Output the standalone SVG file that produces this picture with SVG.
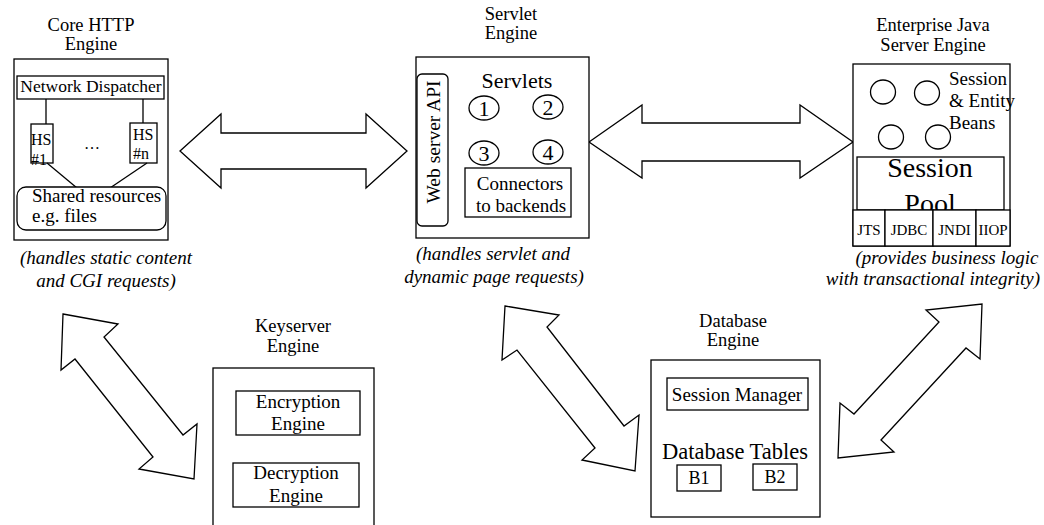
<svg xmlns="http://www.w3.org/2000/svg" width="1044" height="525" viewBox="0 0 1044 525">
<style>
text{font-family:"Liberation Serif","Times New Roman",serif;fill:#000}
.t{font-size:19px;text-anchor:middle}
.h{font-size:18.5px;text-anchor:middle}
.c{font-size:19px;font-style:italic;text-anchor:middle}
.b{fill:#fff;stroke:#000;stroke-width:1.3}
.l{fill:none;stroke:#000;stroke-width:1.3}
.ar{fill:#fff;stroke:#000;stroke-width:1.3;stroke-linejoin:miter}
</style>
<rect width="1044" height="525" fill="#fff"/>

<g id="connectors">
<polygon class="ar" points="180,151 221,114 221,133 366,133 366,114 407,151 366,188 366,169 221,169 221,188"/>
<polygon class="ar" points="589,142 642,105 642,123 800,123 800,105 853,142 800,178 800,161 642,161 642,178"/>
<polygon class="ar" points="63,314 118,324 104,337 183,435 197,424 194,479 139,469 153,457 75,359 61,370"/>
<polygon class="ar" points="505,306 559,315 547,327 624,426 639,415 635,471 582,460 595,448 517,350 502,360"/>
<polygon class="ar" points="982,304 980,359 966,348 881,440 894,452 838,458 840,403 854,414 939,322 926,310"/>
</g>

<g id="core-http">
<text class="h" x="91" y="31">Core HTTP</text>
<text class="h" x="91" y="50">Engine</text>
<rect class="b" x="14" y="59" width="154" height="181"/>
<rect class="b" x="17" y="76" width="147" height="23"/>
<text x="91" y="92" style="font-size:17.5px;text-anchor:middle">Network Dispatcher</text>
<line class="l" x1="46" y1="99" x2="46" y2="124"/>
<line class="l" x1="143" y1="99" x2="143" y2="123"/>
<rect class="b" x="31" y="124" width="22" height="39"/>
<rect class="b" x="130" y="123" width="27" height="40"/>
<text x="31" y="145" style="font-size:16px">HS</text>
<text x="31" y="165" style="font-size:16px">#1</text>
<text x="133" y="140" style="font-size:16px">HS</text>
<text x="133" y="159" style="font-size:16px">#n</text>
<text x="92" y="149" style="font-size:16px;text-anchor:middle">…</text>
<line class="l" x1="47" y1="163" x2="77" y2="188"/>
<line class="l" x1="147" y1="163" x2="110" y2="188"/>
<rect class="b" x="17" y="187" width="149" height="43" rx="9"/>
<text x="32" y="202" style="font-size:19px">Shared resources</text>
<text x="32" y="222" style="font-size:19px">e.g. files</text>
<text class="c" x="106" y="264">(handles static content</text>
<text class="c" x="106" y="287">and CGI requests)</text>
</g>

<g id="servlet">
<text class="h" x="511" y="20">Servlet</text>
<text class="h" x="511" y="39">Engine</text>
<rect class="b" x="416" y="57" width="173" height="181"/>
<rect class="b" x="417" y="74" width="31" height="152" rx="5"/>
<text transform="translate(440,142) rotate(-90)" style="font-size:19.5px;text-anchor:middle">Web server API</text>
<text x="517" y="88" style="font-size:22px;text-anchor:middle">Servlets</text>
<ellipse class="b" cx="484" cy="108" rx="15" ry="12"/>
<ellipse class="b" cx="548" cy="107" rx="15" ry="12"/>
<ellipse class="b" cx="484" cy="153" rx="15" ry="12"/>
<ellipse class="b" cx="548" cy="152" rx="15" ry="12"/>
<text x="484" y="116" style="font-size:22px;text-anchor:middle">1</text>
<text x="548" y="115" style="font-size:22px;text-anchor:middle">2</text>
<text x="484" y="161" style="font-size:22px;text-anchor:middle">3</text>
<text x="548" y="160" style="font-size:22px;text-anchor:middle">4</text>
<rect class="b" x="465" y="168" width="106" height="49"/>
<text class="t" x="520" y="190">Connectors</text>
<text class="t" x="521" y="212">to backends</text>
<text class="c" x="493" y="260">(handles servlet and</text>
<text class="c" x="494" y="283">dynamic page requests)</text>
</g>

<g id="ejb">
<text class="h" x="933" y="31">Enterprise Java</text>
<text class="h" x="933" y="51">Server Engine</text>
<rect class="b" x="853" y="64" width="157" height="182"/>
<ellipse class="b" cx="883" cy="92" rx="12.5" ry="12"/>
<ellipse class="b" cx="927" cy="93" rx="12.5" ry="12"/>
<ellipse class="b" cx="891" cy="137" rx="12.5" ry="12"/>
<ellipse class="b" cx="938" cy="137" rx="12.5" ry="12"/>
<text x="949" y="85" style="font-size:19px">Session</text>
<text x="949" y="107" style="font-size:19px">&amp; Entity</text>
<text x="949" y="129" style="font-size:19px">Beans</text>
<rect class="b" x="857" y="157" width="147" height="53"/>
<text x="930" y="177" style="font-size:28px;text-anchor:middle">Session</text>
<text x="930" y="213" style="font-size:28px;text-anchor:middle">Pool</text>
<rect class="b" x="853" y="210" width="32" height="36"/>
<rect class="b" x="885" y="210" width="48" height="36"/>
<rect class="b" x="933" y="210" width="43" height="36"/>
<rect class="b" x="976" y="210" width="34" height="36"/>
<text x="869" y="235" style="font-size:15px;text-anchor:middle">JTS</text>
<text x="909" y="235" style="font-size:15px;text-anchor:middle">JDBC</text>
<text x="954.5" y="235" style="font-size:15px;text-anchor:middle">JNDI</text>
<text x="993" y="235" style="font-size:15px;text-anchor:middle">IIOP</text>
<text class="c" x="947" y="264">(provides business logic</text>
<text class="c" x="933" y="285">with transactional integrity)</text>
</g>

<g id="keyserver">
<text class="h" x="293" y="332">Keyserver</text>
<text class="h" x="293" y="352">Engine</text>
<rect class="b" x="213" y="368" width="161" height="170"/>
<rect class="b" x="236" y="391" width="124" height="44"/>
<text class="t" x="298" y="408">Encryption</text>
<text class="t" x="298" y="430">Engine</text>
<rect class="b" x="233" y="463" width="126" height="44"/>
<text class="t" x="296" y="479">Decryption</text>
<text class="t" x="296" y="502">Engine</text>
</g>

<g id="database">
<text class="h" x="733" y="327">Database</text>
<text class="h" x="733" y="346">Engine</text>
<rect class="b" x="651" y="360" width="169" height="157"/>
<rect class="b" x="667" y="378" width="141" height="32"/>
<text class="t" x="737" y="401">Session Manager</text>
<text x="735" y="459" style="font-size:22.5px;text-anchor:middle">Database Tables</text>
<rect class="b" x="677" y="465" width="44" height="26"/>
<text x="699" y="484" style="font-size:18px;text-anchor:middle">B1</text>
<rect class="b" x="753" y="464" width="44" height="26"/>
<text x="775" y="483" style="font-size:18px;text-anchor:middle">B2</text>
</g>
</svg>
